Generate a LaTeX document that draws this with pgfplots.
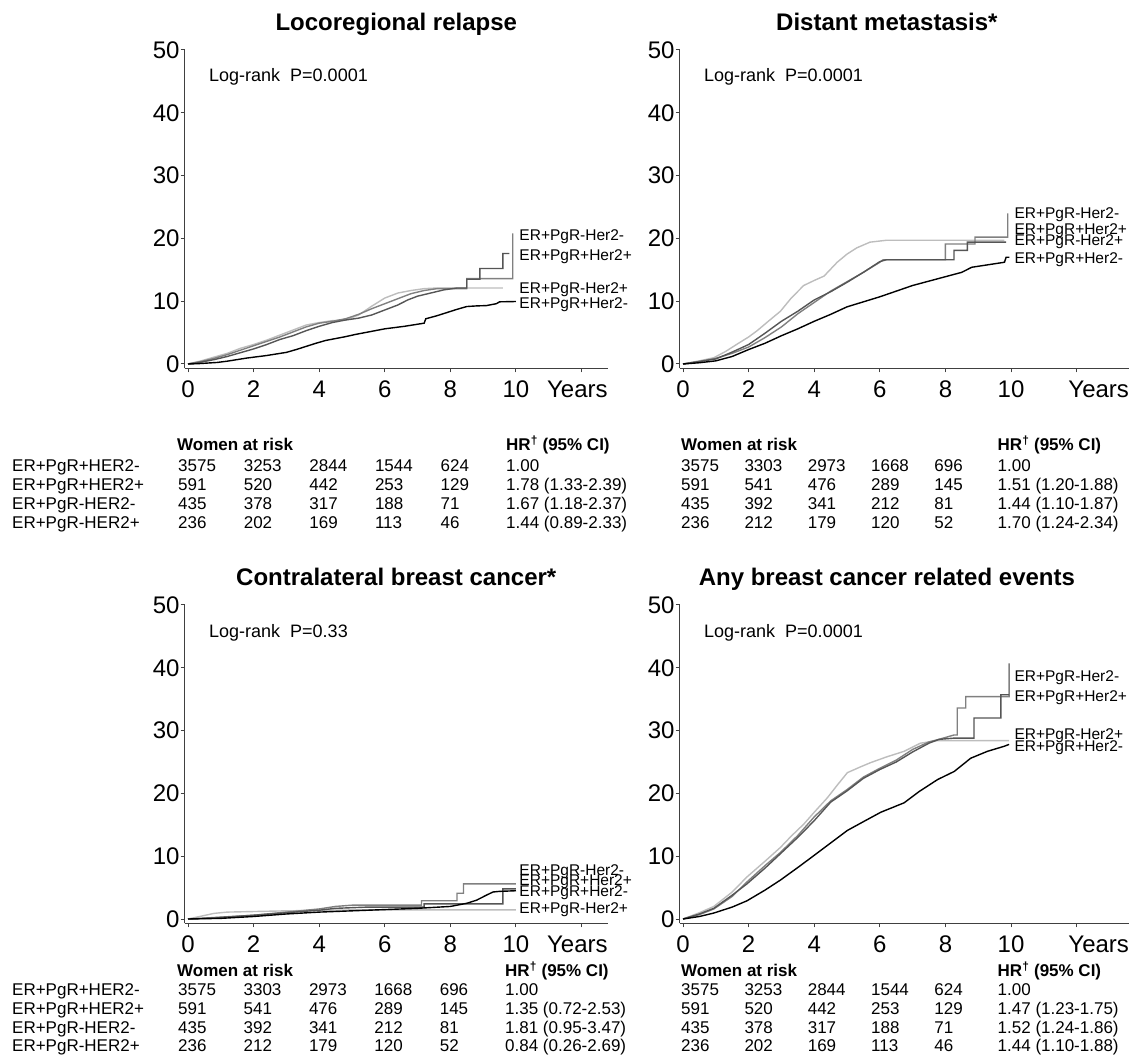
\documentclass[border=0pt]{standalone}
\usepackage{pgfplots}
\pgfplotsset{compat=1.18}
\usepackage{fontspec}
\setmainfont{Liberation Sans}
\definecolor{colB}{HTML}{555555}
\definecolor{colC}{HTML}{808080}
\definecolor{colD}{HTML}{BDBDBD}
\newcommand\tf{\fontsize{17}{17}\selectfont}
\newcommand\T[3]{\pgfmathsetmacro\tx{#1}\pgfmathsetmacro\ty{1059-(#2)-6}\node[anchor=base west, inner sep=0pt, font=\tf] at (\tx pt,\ty pt) {#3};}
% #1 x0, #2 dx, #3 py, #4-#9 values
\newcommand\rrow[9]{\T{#1}{#3}{#4}\T{#1+#2}{#3}{#5}\T{#1+2*#2}{#3}{#6}\T{#1+3*#2}{#3}{#7}\T{#1+4*#2}{#3}{#8}\T{#1+5*#2}{#3}{#9}}
\tikzset{
 lab/.style={anchor=west, inner sep=0pt, font=\fontsize{15.5}{15.5}\selectfont},
 lr/.style={anchor=west, inner sep=0pt, font=\fontsize{18}{18}\selectfont},
 yrs/.style={anchor=base east, inner sep=0pt, font=\fontsize{24}{24}\selectfont},
}
\pgfplotsset{
 km/.style={
  scale only axis, width=423.1pt, height=318.4pt,
  xmin=-0.1, xmax=12.8, ymin=-0.7, ymax=50,
  axis x line=bottom, axis y line=left,
  axis line style={-, draw=black!75, line width=1.2pt},
  xtick={0,2,...,12}, xticklabels={0,2,4,6,8,10,{}},
  ytick={0,10,...,50},
  tick align=outside, major tick length=4pt,
  tick style={black!75, line width=1pt},
  tick label style={font=\fontsize{24}{24}\selectfont},
  /pgf/number format/assume math mode=true,
  yticklabel style={inner sep=1pt},
  xticklabel style={inner sep=0pt, yshift=-8pt},
  title style={font=\bfseries\fontsize{24}{24}\selectfont, anchor=base, at={(0.5,1)}, yshift=13.5pt},
  clip=false,
 },
 kmR/.style={km, width=449.4pt, xmax=13.6, title style={at={(0.461,1)}}},
 sA/.style={no marks, black, line width=1.4pt},
 sB/.style={no marks, colB, line width=1.4pt},
 sC/.style={no marks, colC, line width=1.4pt},
 sD/.style={no marks, colD, line width=1.4pt},
}
\begin{document}
\begin{tikzpicture}

% ---------- Locoregional relapse ----------
\begin{axis}[km, at={(184.72pt,690.6pt)}, anchor=south west, title={Locoregional relapse}]
\addplot[sD] coordinates {(0,0)(0.4,0.5)(0.8,1.1)(1.2,1.7)(1.6,2.5)(2.0,3.1)(2.4,3.8)(2.8,4.6)(3.2,5.4)(3.6,6.2)(4.0,6.6)(4.4,6.9)(4.8,7.0)(5.2,7.8)(5.6,9.2)(6.0,10.5)(6.4,11.3)(6.8,11.7)(7.2,12.0)(7.6,12.1)(9.6,12.1)};
\addplot[sC] coordinates {(0,0)(0.4,0.4)(0.8,0.9)(1.2,1.5)(1.6,2.2)(2.0,2.9)(2.4,3.6)(2.8,4.3)(3.2,5.1)(3.6,5.9)(4.0,6.5)(4.4,6.8)(4.8,7.2)(5.2,7.9)(5.6,8.8)(6.0,9.6)(6.4,10.4)(6.8,11.2)(7.2,11.7)(7.6,12.0)(8.5,12.0)(8.5,13.6)(9.9,13.6)(9.9,20.8)};
\addplot[sB] coordinates {(0,0)(0.4,0.3)(0.8,0.7)(1.2,1.2)(1.6,1.8)(2.0,2.4)(2.4,3.1)(2.8,3.9)(3.2,4.5)(3.6,5.3)(4.0,6.0)(4.4,6.6)(4.8,7.0)(5.2,7.3)(5.6,7.8)(6.0,8.6)(6.4,9.4)(6.7,10.2)(7.0,10.8)(7.4,11.3)(7.8,11.8)(8.2,12.1)(8.5,12.1)(8.5,13.5)(8.9,13.5)(8.9,15.2)(9.6,15.2)(9.6,17.6)(9.8,17.6)};
\addplot[sA] coordinates {(0,0)(0.3,0.05)(0.6,0.15)(0.9,0.25)(1.2,0.45)(1.5,0.7)(1.8,0.95)(2.1,1.15)(2.4,1.35)(2.7,1.6)(3.0,1.85)(3.3,2.3)(3.6,2.8)(3.9,3.3)(4.2,3.75)(4.5,4.05)(4.8,4.35)(5.1,4.7)(5.4,5.0)(5.7,5.3)(6.0,5.6)(6.3,5.8)(6.6,6.0)(6.9,6.25)(7.2,6.5)(7.25,7.2)(7.6,7.7)(7.9,8.2)(8.2,8.7)(8.5,9.15)(8.8,9.25)(9.1,9.3)(9.4,9.6)(9.5,9.9)(10.0,9.95)};
\node[lr] at (axis cs:0.64,45.7) {Log-rank\ \ P=0.0001};
\node[lab] at (axis cs:10.1,20.3) {ER+PgR-Her2-};
\node[lab] at (axis cs:10.1,17.1) {ER+PgR+Her2+};
\node[lab] at (axis cs:10.1,11.8) {ER+PgR-Her2+};
\node[lab] at (axis cs:10.1,9.4) {ER+PgR+Her2-};
\node[yrs] at ([yshift=-29.2pt]rel axis cs:1,0) {Years};
\end{axis}

% ---------- Distant metastasis ----------
\begin{axis}[kmR, at={(679.72pt,690.6pt)}, anchor=south west, title={Distant metastasis*}]
\addplot[sD] coordinates {(0,0)(0.5,0.5)(0.94,1.0)(1.3,2.0)(1.66,3.2)(2.0,4.3)(2.26,5.3)(2.6,6.8)(2.97,8.4)(3.3,10.5)(3.68,12.5)(4.0,13.3)(4.3,14.0)(4.7,16.2)(5.0,17.5)(5.3,18.5)(5.7,19.4)(6.2,19.7)(9.8,19.7)};
\addplot[sC] coordinates {(0,0)(0.5,0.4)(1.0,0.9)(1.5,1.7)(2.0,2.7)(2.5,4.2)(3.0,5.9)(3.5,8.0)(4.0,9.8)(4.5,11.6)(5.0,13.1)(5.5,14.6)(6.0,16.2)(6.1,16.6)(8.0,16.6)(8.0,19.1)(8.9,19.1)(8.9,20.2)(9.9,20.2)(9.9,24.0)};
\addplot[sB] coordinates {(0,0)(0.5,0.4)(1.0,0.8)(1.5,1.9)(2.0,3.1)(2.5,4.9)(3.0,6.8)(3.5,8.4)(4.0,10.2)(4.5,11.5)(5.0,13.0)(5.5,14.6)(6.0,16.3)(6.2,16.6)(8.26,16.6)(8.26,18.1)(8.67,18.1)(8.67,19.4)(9.85,19.4)};
\addplot[sA] coordinates {(0,0)(0.5,0.2)(1.0,0.5)(1.5,1.2)(2.0,2.3)(2.5,3.3)(3.0,4.5)(3.5,5.6)(4.0,6.8)(4.5,7.9)(5.0,9.1)(5.5,9.9)(6.0,10.7)(6.5,11.6)(7.0,12.5)(7.5,13.2)(8.0,13.9)(8.5,14.6)(8.8,15.4)(9.3,15.8)(9.8,16.2)(9.85,17.0)(9.95,17.0)};
\node[lr] at (axis cs:0.64,45.7) {Log-rank\ \ P=0.0001};
\node[lab] at (axis cs:10.1,23.7) {ER+PgR-Her2-};
\node[lab] at (axis cs:10.1,21.3) {ER+PgR+Her2+};
\node[lab] at (axis cs:10.1,19.5) {ER+PgR-Her2+};
\node[lab] at (axis cs:10.1,16.6) {ER+PgR+Her2-};
\node[yrs] at ([yshift=-29.2pt]rel axis cs:1,0) {Years};
\end{axis}

% ---------- Contralateral breast cancer ----------
\begin{axis}[km, at={(184.72pt,135.6pt)}, anchor=south west, title={Contralateral breast cancer*}]
\addplot[sD] coordinates {(0,0)(0.8,0.9)(1.2,1.1)(3.0,1.3)(5.0,1.45)(10.0,1.45)};
\addplot[sC] coordinates {(0,0)(0.5,0.15)(1.0,0.3)(2.0,0.6)(3.0,1.1)(4.0,1.6)(4.5,2.0)(5.0,2.2)(7.12,2.2)(7.12,2.9)(8.2,2.9)(8.2,4.1)(8.4,4.1)(8.4,5.6)(10.0,5.6)};
\addplot[sB] coordinates {(0,0)(0.5,0.1)(1.0,0.25)(2.0,0.6)(3.0,1.0)(4.0,1.4)(4.5,1.7)(5.5,1.9)(7.2,1.9)(7.2,2.4)(9.6,2.4)(9.6,4.8)(10.0,4.8)};
\addplot[sA] coordinates {(0,0)(1.0,0.1)(2.0,0.4)(3.0,0.8)(4.0,1.1)(5.0,1.3)(6.0,1.5)(7.0,1.7)(8.0,2.0)(8.5,2.5)(8.8,3.0)(9.1,3.8)(9.3,4.3)(9.5,4.4)(10.0,4.5)};
\node[lr] at (axis cs:0.64,45.6) {Log-rank\ \ P=0.33};
\node[lab] at (axis cs:10.1,7.5) {ER+PgR-Her2-};
\node[lab] at (axis cs:10.1,5.9) {ER+PgR+Her2+};
\node[lab] at (axis cs:10.1,4.2) {ER+PgR+Her2-};
\node[lab] at (axis cs:10.1,1.5) {ER+PgR-Her2+};
\node[yrs] at ([yshift=-29.2pt]rel axis cs:1,0) {Years};
\end{axis}

% ---------- Any breast cancer related events ----------
\begin{axis}[kmR, at={(679.72pt,135.6pt)}, anchor=south west, title={Any breast cancer related events}]
\addplot[sD] coordinates {(0,0)(0.5,1.0)(0.94,2.0)(1.5,4.3)(1.95,6.7)(2.5,9.2)(2.97,11.4)(3.3,13.2)(3.68,15.1)(4.0,17.0)(4.4,19.3)(4.7,21.3)(5.01,23.3)(5.4,24.2)(5.72,24.9)(6.2,25.8)(6.74,26.7)(7.24,28.0)(7.76,28.4)(9.94,28.4)};
\addplot[sC] coordinates {(0,0)(0.5,0.7)(0.94,1.6)(1.5,3.6)(1.95,5.9)(2.5,8.5)(2.97,10.6)(3.5,13.3)(3.99,16.2)(4.5,18.8)(5.0,20.6)(5.5,22.6)(6.0,24.0)(6.5,25.3)(7.0,27.0)(7.5,28.2)(7.8,28.6)(8.26,29.3)(8.36,29.3)(8.36,33.6)(8.62,33.6)(8.62,35.4)(9.94,35.4)(9.94,40.7)};
\addplot[sB] coordinates {(0,0)(0.5,0.8)(0.94,1.7)(1.5,3.8)(1.95,5.6)(2.5,8.1)(2.97,10.4)(3.5,13.0)(3.99,15.6)(4.5,18.6)(5.0,20.4)(5.5,22.4)(6.0,23.8)(6.5,25.0)(7.0,26.6)(7.5,28.0)(7.8,28.6)(8.26,28.8)(8.87,28.8)(8.87,32.0)(9.69,32.0)(9.69,35.7)(9.94,35.7)};
\addplot[sA] coordinates {(0,0)(0.5,0.4)(0.94,0.95)(1.5,1.9)(1.95,2.9)(2.5,4.6)(2.97,6.2)(3.5,8.2)(3.99,10.1)(4.5,12.1)(5.01,14.1)(5.5,15.5)(6.03,17.0)(6.74,18.5)(7.2,20.3)(7.76,22.2)(8.27,23.5)(8.77,25.6)(9.28,26.7)(9.79,27.5)(9.94,27.8)};
\node[lr] at (axis cs:0.64,45.6) {Log-rank\ \ P=0.0001};
\node[lab] at (axis cs:10.1,38.5) {ER+PgR-Her2-};
\node[lab] at (axis cs:10.1,35.3) {ER+PgR+Her2+};
\node[lab] at (axis cs:10.1,29.2) {ER+PgR-Her2+};
\node[lab] at (axis cs:10.1,27.3) {ER+PgR+Her2-};
\node[yrs] at ([yshift=-29.2pt]rel axis cs:1,0) {Years};
\end{axis}

% ---------- risk tables ----------
\T{177}{445}{\bfseries Women at risk}
\T{506}{445}{\bfseries HR\textsuperscript{†} (95\% CI)}
\T{681}{445}{\bfseries Women at risk}
\T{997.5}{445}{\bfseries HR\textsuperscript{†} (95\% CI)}
\T{12}{466}{ER+PgR+HER2-}
\T{12}{484.7}{ER+PgR+HER2+}
\T{12}{503.4}{ER+PgR-HER2-}
\T{12}{522.1}{ER+PgR-HER2+}
\rrow{178}{65.6}{466}{3575}{3253}{2844}{1544}{624}{1.00}
\rrow{178}{65.6}{484.7}{591}{520}{442}{253}{129}{1.78 (1.33-2.39)}
\rrow{178}{65.6}{503.4}{435}{378}{317}{188}{71}{1.67 (1.18-2.37)}
\rrow{178}{65.6}{522.1}{236}{202}{169}{113}{46}{1.44 (0.89-2.33)}
\rrow{681}{63.3}{466}{3575}{3303}{2973}{1668}{696}{1.00}
\rrow{681}{63.3}{484.7}{591}{541}{476}{289}{145}{1.51 (1.20-1.88)}
\rrow{681}{63.3}{503.4}{435}{392}{341}{212}{81}{1.44 (1.10-1.87)}
\rrow{681}{63.3}{522.1}{236}{212}{179}{120}{52}{1.70 (1.24-2.34)}
\T{177}{970.5}{\bfseries Women at risk}
\T{505}{970.5}{\bfseries HR\textsuperscript{†} (95\% CI)}
\T{681}{970.5}{\bfseries Women at risk}
\T{997.5}{970.5}{\bfseries HR\textsuperscript{†} (95\% CI)}
\T{12}{989.5}{ER+PgR+HER2-}
\T{12}{1008.3}{ER+PgR+HER2+}
\T{12}{1027.1}{ER+PgR-HER2-}
\T{12}{1045.9}{ER+PgR-HER2+}
\rrow{178}{65.4}{989.5}{3575}{3303}{2973}{1668}{696}{1.00}
\rrow{178}{65.4}{1008.3}{591}{541}{476}{289}{145}{1.35 (0.72-2.53)}
\rrow{178}{65.4}{1027.1}{435}{392}{341}{212}{81}{1.81 (0.95-3.47)}
\rrow{178}{65.4}{1045.9}{236}{212}{179}{120}{52}{0.84 (0.26-2.69)}
\rrow{681}{63.3}{989.5}{3575}{3253}{2844}{1544}{624}{1.00}
\rrow{681}{63.3}{1008.3}{591}{520}{442}{253}{129}{1.47 (1.23-1.75)}
\rrow{681}{63.3}{1027.1}{435}{378}{317}{188}{71}{1.52 (1.24-1.86)}
\rrow{681}{63.3}{1045.9}{236}{202}{169}{113}{46}{1.44 (1.10-1.88)}
\pgfresetboundingbox
\path[use as bounding box] (0pt,0pt) rectangle (1129pt,1059pt);
\end{tikzpicture}
\end{document}
